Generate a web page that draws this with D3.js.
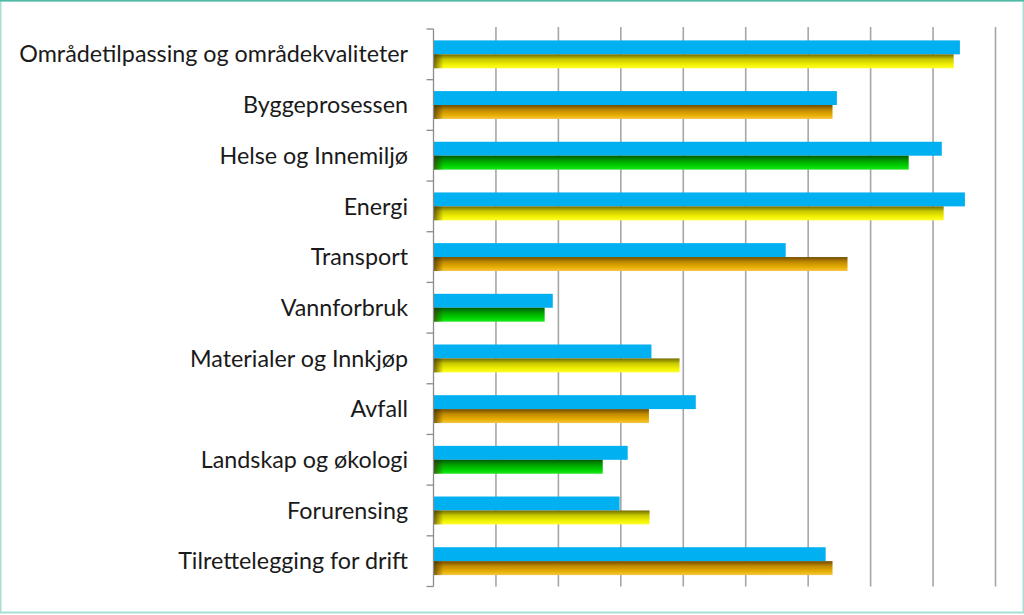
<!DOCTYPE html>
<html>
<head>
<meta charset="utf-8">
<script src="https://cdn.jsdelivr.net/npm/d3@7"></script>
<style>
  html, body { margin: 0; padding: 0; background: #fff; }
  svg { display: block; }
</style>
</head>
<body>
<svg id="chart" width="1024" height="615"></svg>
<script>
const categories = [
  "Områdetilpassing og områdekvaliteter",
  "Byggeprosessen",
  "Helse og Innemiljø",
  "Energi",
  "Transport",
  "Vannforbruk",
  "Materialer og Innkjøp",
  "Avfall",
  "Landskap og økologi",
  "Forurensing",
  "Tilrettelegging for drift"
];
const blueValues   = [8.43, 6.46, 8.14, 8.51, 5.64, 1.91, 3.49, 4.20, 3.11, 2.98, 6.28];
const secondValues = [8.33, 6.39, 7.61, 8.17, 6.63, 1.78, 3.94, 3.45, 2.71, 3.46, 6.39];
const secondColorKeys = ["yellow","orange","green","yellow","orange","green","yellow","orange","green","yellow","orange"];
const gridTicks = [1, 2, 3, 4, 5, 6, 7, 8, 9];

const svg = d3.select("#chart");
const W = 1024, H = 615;
const mLeft = 433.5, mRight = 995.5, mTop = 29, mBottom = 586.5;

const x = d3.scaleLinear().domain([0, 9]).range([mLeft, mRight]);
const y = d3.scaleBand().domain(categories).range([mTop, mBottom]).paddingInner(0.45).paddingOuter(0.225);
const yOuter = d3.scaleBand().domain(categories).range([mTop, mBottom]);

// frame
svg.append("rect").attr("x", 0.5).attr("y", 0.5).attr("width", W - 1).attr("height", H - 3)
  .attr("fill", "none").attr("stroke", "#a6dfd6").attr("stroke-width", 2);
svg.append("line").attr("x1", 0).attr("x2", W).attr("y1", 0.5).attr("y2", 0.5)
  .attr("stroke", "#4fb9a3").attr("stroke-width", 2);

const defs = svg.append("defs");
const grads = {
  yellow: ["#6f6a00", "#c8c800", "#f2f200", "#ffff30"],
  orange: ["#6e4a00", "#c08a00", "#e8b000", "#f6c64a"],
  green:  ["#005a00", "#00a000", "#00d400", "#1ee81e"]
};
Object.entries(grads).forEach(([k, c]) => {
  const g = defs.append("linearGradient").attr("id", "g-" + k)
    .attr("x1", 0).attr("y1", 0).attr("x2", 0).attr("y2", 1);
  g.append("stop").attr("offset", "0%").attr("stop-color", c[0]);
  g.append("stop").attr("offset", "35%").attr("stop-color", c[1]);
  g.append("stop").attr("offset", "75%").attr("stop-color", c[2]);
  g.append("stop").attr("offset", "100%").attr("stop-color", c[3]);
});
const shade = defs.append("linearGradient").attr("id", "shade")
  .attr("x1", 0).attr("y1", 0).attr("x2", 1).attr("y2", 0);
shade.append("stop").attr("offset", "0%").attr("stop-color", "#3a2a00").attr("stop-opacity", 0.7);
shade.append("stop").attr("offset", "100%").attr("stop-color", "#3a2a00").attr("stop-opacity", 0);

// gridlines
svg.append("g").selectAll("line").data(gridTicks).join("line")
  .attr("x1", d => x(d)).attr("x2", d => x(d))
  .attr("y1", mTop - 2).attr("y2", mBottom)
  .attr("stroke", "#a6a6a6").attr("stroke-width", 1.6);

const bh = y.bandwidth() / 2;

// blue bars
svg.append("g").selectAll("rect").data(categories).join("rect")
  .attr("x", x(0)).attr("y", d => y(d))
  .attr("width", (d, i) => x(blueValues[i]) - x(0)).attr("height", bh)
  .attr("fill", "#00b0f0");

// second bars
const sec = svg.append("g");
sec.selectAll("rect.sb").data(categories).join("rect").attr("class", "sb")
  .attr("x", x(0)).attr("y", d => y(d) + bh)
  .attr("width", (d, i) => x(secondValues[i]) - x(0)).attr("height", bh)
  .attr("fill", (d, i) => `url(#g-${secondColorKeys[i]})`);
sec.selectAll("rect.sh").data(categories).join("rect").attr("class", "sh")
  .attr("x", x(0)).attr("y", d => y(d) + bh)
  .attr("width", 10).attr("height", bh)
  .attr("fill", "url(#shade)");

// y axis
const ag = svg.append("g").attr("transform", `translate(${mLeft},0)`);
ag.append("line").attr("x1", 0).attr("x2", 0).attr("y1", mTop).attr("y2", mBottom)
  .attr("stroke", "#8c8c8c").attr("stroke-width", 1.3);
const tickYs = categories.map(c => yOuter(c)).concat([mBottom]);
ag.selectAll("line.t").data(tickYs).join("line").attr("class", "t")
  .attr("x1", -7).attr("x2", 0).attr("y1", d => d).attr("y2", d => d)
  .attr("stroke", "#8c8c8c").attr("stroke-width", 1.3);

// labels
svg.append("g").selectAll("text").data(categories).join("text")
  .attr("x", 408).attr("y", d => yOuter(d) + yOuter.bandwidth() / 2)
  .attr("dy", "0.35em")
  .attr("text-anchor", "end")
  .attr("font-family", "Lato, 'Open Sans', sans-serif")
  .attr("font-size", 23.3)
  .attr("fill", "#1a1a1a")
  .text(d => d);
</script>
</body>
</html>
